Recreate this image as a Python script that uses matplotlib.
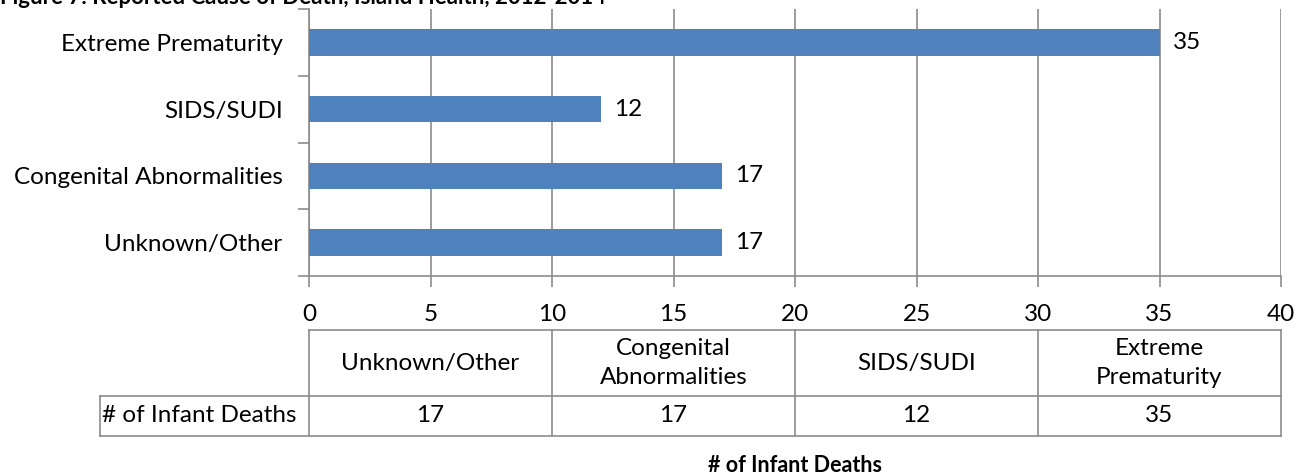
import numpy as np
import matplotlib.pyplot as plt

categories = ["Unknown/Other", "Congenital Abnormalities", "SIDS/SUDI", "Extreme Prematurity"]
table_headers = ["Unknown/Other", "Congenital\nAbnormalities", "SIDS/SUDI", "Extreme\nPrematurity"]
deaths = [17, 17, 12, 35]
row_label = "# of Infant Deaths"
title = "Figure 7: Reported Cause of Death, Island Health, 2012-2014"
xticks = [0, 5, 10, 15, 20, 25, 30, 35, 40]

W, H = 1302, 476
BAR = "#4F81BD"
GRID = "#8C8C8C"
FONT = "Lato"
FS = 17.5


def main():
    plt.rcParams["font.family"] = [FONT, "DejaVu Sans"]
    fig = plt.figure(figsize=(W / 100, H / 100), dpi=100)

    # main bar axes (pixel layout)
    left, right, top, bottom = 309, 1281, 9, 276
    ax = fig.add_axes([left / W, 1 - bottom / H, (right - left) / W, (bottom - top) / H])
    y = np.arange(len(categories))
    ax.barh(y, deaths, height=0.4, color=BAR, zorder=3)
    for yi, v in zip(y, deaths):
        ax.text(v + 0.55, yi, str(v), va="center", ha="left", fontsize=FS)
    ax.set_xlim(0, 40)
    ax.set_ylim(-0.5, len(categories) - 0.5)
    ax.set_xticks(xticks)
    ax.set_xticklabels([str(t) for t in xticks], fontsize=FS)
    ax.set_yticks(y)
    ax.set_yticklabels(categories, fontsize=FS)
    ax.tick_params(axis="y", length=0, pad=19)
    ax.set_yticks(np.arange(len(categories) + 1) - 0.5, minor=True)
    ax.tick_params(axis="y", which="minor", length=8, color=GRID, width=1.2)
    ax.tick_params(axis="x", length=8, color=GRID, width=1.2, pad=12)
    ax.grid(axis="x", color=GRID, linewidth=1.2, zorder=0)
    for s in ["top", "right"]:
        ax.spines[s].set_visible(False)
    for s in ["left", "bottom"]:
        ax.spines[s].set_color(GRID)
        ax.spines[s].set_linewidth(1.2)

    # data table below the axis
    t_top, t_mid, t_bot = 330, 396, 436
    tab = fig.add_axes([left / W, 1 - t_bot / H, (right - left) / W, (t_bot - t_top) / H])
    tab.set_xlim(0, 40)
    tab.set_ylim(t_bot, t_top)
    tab.axis("off")
    n = len(categories)
    step = 40 / n
    lw = 1.2
    label_left = (100 - left) / (right - left) * 40
    kw = dict(color=GRID, linewidth=lw, clip_on=False)
    tab.plot([0, 40], [t_top, t_top], **kw)
    tab.plot([label_left, 40], [t_mid, t_mid], **kw)
    tab.plot([label_left, 40], [t_bot, t_bot], **kw)
    tab.plot([label_left, label_left], [t_mid, t_bot], **kw)
    for i in range(n + 1):
        tab.plot([i * step, i * step], [t_top, t_bot], **kw)
    for i in range(n):
        cx = (i + 0.5) * step
        tab.text(cx, (t_top + t_mid) / 2, table_headers[i], ha="center", va="center",
                 fontsize=FS, linespacing=1.45, clip_on=False)
        tab.text(cx, (t_mid + t_bot) / 2, str(deaths[i]), ha="center", va="center",
                 fontsize=FS, clip_on=False)
    tab.text(label_left + 0.1, (t_mid + t_bot) / 2, row_label, ha="left", va="center",
             fontsize=FS, clip_on=False)

    fig.text(795 / W, 1 - 466 / H, row_label, ha="center", va="center",
             fontsize=15.5, fontweight="bold")
    fig.text(0, 1 - 4 / H, title, ha="left", va="baseline", fontsize=16, fontweight="bold")

    fig.savefig("out.png", dpi=100)


if __name__ == "__main__":
    main()
